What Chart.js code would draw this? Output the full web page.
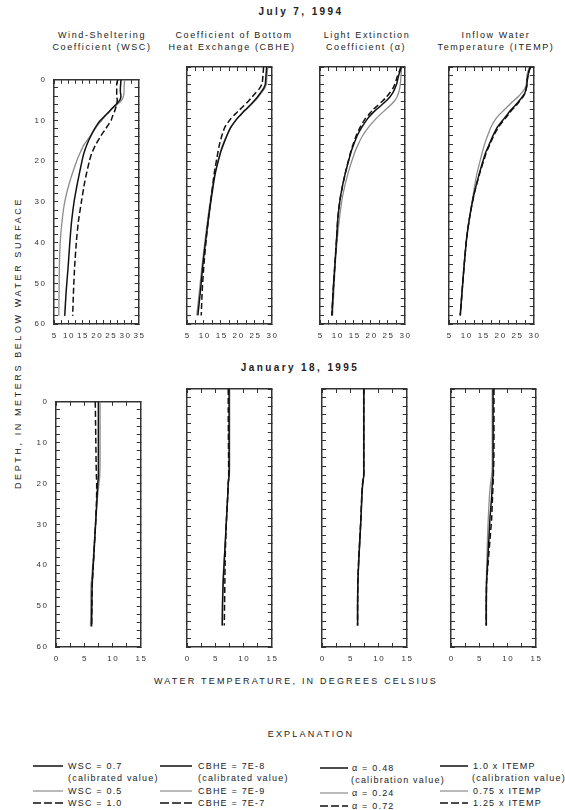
<!DOCTYPE html>
<html>
<head>
  <meta charset="utf-8">
  <title>Simulated water temperature profiles</title>
  <script src="https://cdn.jsdelivr.net/npm/chart.js@4.4.1/dist/chart.umd.min.js"></script>
  <style>
    body { margin: 0; width: 565px; height: 810px; position: relative; overflow: hidden; background: #fff;
           font-family: "Liberation Sans", Arial, sans-serif; color: #222; }
    canvas { position: absolute; }
    .txt { position: absolute; white-space: nowrap; font-size: 9px; line-height: 12px; letter-spacing: 1.6px;
           transform: translate(-50%, -50%); }
    .bold { font-weight: bold; font-size: 10px; letter-spacing: 2.4px; }
    .leg { position: absolute; white-space: nowrap; font-size: 9px; line-height: 12px; letter-spacing: 1.2px;
           transform: translateY(-50%); }
    svg.s { position: absolute; overflow: visible; }
  </style>
</head>
<body>

<div class="txt bold" style="left:301px; top:12px">July 7, 1994</div>
<div class="txt" style="left:102px; top:35px">Wind-Sheltering</div>
<div class="txt" style="left:102px; top:47px">Coefficient (WSC)</div>
<div class="txt" style="left:234px; top:35px">Coefficient of Bottom</div>
<div class="txt" style="left:232px; top:47px">Heat Exchange (CBHE)</div>
<div class="txt" style="left:367px; top:35px">Light Extinction</div>
<div class="txt" style="left:366px; top:47px">Coefficient (α)</div>
<div class="txt" style="left:496px; top:35px">Inflow Water</div>
<div class="txt" style="left:496px; top:47px">Temperature (ITEMP)</div>

<div class="txt bold" style="left:300px; top:368px">January 18, 1995</div>

<div class="txt" style="left:18px; top:343px; transform: translate(-50%, -50%) rotate(-90deg); letter-spacing:2.6px">DEPTH, IN METERS BELOW WATER SURFACE</div>
<div class="txt" style="left:296px; top:681px; letter-spacing:2.2px">WATER TEMPERATURE, IN DEGREES CELSIUS</div>
<div class="txt" style="left:311px; top:734px; letter-spacing:2.2px">EXPLANATION</div>

<!-- legend -->
<svg class="s" style="left:33px; top:766px" width="30" height="1"><line x1="0" y1="0" x2="30" y2="0" stroke="#111" stroke-width="1.5"/></svg>
<div class="leg" style="left:68px; top:766px">WSC = 0.7</div>
<div class="leg" style="left:68px; top:778px">(calibrated value)</div>
<svg class="s" style="left:33px; top:791px" width="30" height="1"><line x1="0" y1="0" x2="30" y2="0" stroke="#8c8c8c" stroke-width="1.2"/></svg>
<div class="leg" style="left:68px; top:791px">WSC = 0.5</div>
<svg class="s" style="left:33px; top:803px" width="30" height="1"><line x1="0" y1="0" x2="30" y2="0" stroke="#111" stroke-width="1.5" stroke-dasharray="8,3"/></svg>
<div class="leg" style="left:68px; top:803px">WSC = 1.0</div>

<svg class="s" style="left:160px; top:766px" width="32" height="1"><line x1="0" y1="0" x2="32" y2="0" stroke="#111" stroke-width="1.5"/></svg>
<div class="leg" style="left:198px; top:766px">CBHE = 7E-8</div>
<div class="leg" style="left:198px; top:778px">(calibrated value)</div>
<svg class="s" style="left:160px; top:791px" width="32" height="1"><line x1="0" y1="0" x2="32" y2="0" stroke="#8c8c8c" stroke-width="1.2"/></svg>
<div class="leg" style="left:198px; top:791px">CBHE = 7E-9</div>
<svg class="s" style="left:160px; top:803px" width="32" height="1"><line x1="0" y1="0" x2="32" y2="0" stroke="#111" stroke-width="1.5" stroke-dasharray="9,3"/></svg>
<div class="leg" style="left:198px; top:803px">CBHE = 7E-7</div>

<svg class="s" style="left:320px; top:768px" width="28" height="1"><line x1="0" y1="0" x2="28" y2="0" stroke="#111" stroke-width="1.5"/></svg>
<div class="leg" style="left:352px; top:768px">α = 0.48</div>
<div class="leg" style="left:351px; top:780px">(calibration value)</div>
<svg class="s" style="left:320px; top:793px" width="28" height="1"><line x1="0" y1="0" x2="28" y2="0" stroke="#8c8c8c" stroke-width="1.2"/></svg>
<div class="leg" style="left:352px; top:793px">α = 0.24</div>
<svg class="s" style="left:320px; top:806px" width="28" height="1"><line x1="0" y1="0" x2="28" y2="0" stroke="#111" stroke-width="1.5" stroke-dasharray="8,3"/></svg>
<div class="leg" style="left:352px; top:806px">α = 0.72</div>

<svg class="s" style="left:440px; top:766px" width="28" height="1"><line x1="0" y1="0" x2="28" y2="0" stroke="#111" stroke-width="1.5"/></svg>
<div class="leg" style="left:473px; top:766px">1.0 x ITEMP</div>
<div class="leg" style="left:472px; top:778px">(calibration value)</div>
<svg class="s" style="left:440px; top:791px" width="28" height="1"><line x1="0" y1="0" x2="28" y2="0" stroke="#8c8c8c" stroke-width="1.2"/></svg>
<div class="leg" style="left:473px; top:791px">0.75 x ITEMP</div>
<svg class="s" style="left:440px; top:803px" width="28" height="1"><line x1="0" y1="0" x2="28" y2="0" stroke="#111" stroke-width="1.5" stroke-dasharray="8,3"/></svg>
<div class="leg" style="left:473px; top:803px">1.25 x ITEMP</div>

<script>
  // depth below water surface (m)
  var julyDepth = [0, 1, 2, 3, 4, 5, 6, 7, 8, 9, 10, 11, 12, 14, 16, 18, 20, 25, 30, 35, 40, 46, 52, 58];
  var janDepth = [0, 5, 10, 15, 18, 20, 22, 25, 30, 35, 40, 45, 50, 55];

  // July 7, 1994 - water temperature (deg C)
  var wsc07 = [28.7, 28.6, 28.5, 28.5, 28.7, 28.3, 27.0, 25.6, 24.3, 22.8, 21.4, 20.3, 19.4, 17.9, 16.6, 15.6, 14.9, 13.4, 12.1, 11.2, 10.6, 10.0, 9.3, 8.8];
  var wsc05 = [30.0, 29.9, 29.8, 29.8, 29.6, 29.0, 27.5, 25.8, 24.3, 23.0, 21.9, 20.6, 19.6, 17.6, 15.6, 14.2, 13.0, 10.6, 8.8, 7.8, 7.2, 6.9, 6.8, 6.7];
  var wsc10 = [27.6, 27.2, 27.2, 27.2, 27.2, 27.4, 27.2, 26.8, 26.3, 25.7, 25.2, 24.3, 23.3, 21.4, 19.7, 18.4, 17.5, 15.9, 14.7, 13.6, 12.9, 12.3, 11.9, 11.6];

  var cbhe7e8 = [28.5, 28.4, 28.3, 28.2, 28.1, 27.6, 26.7, 25.8, 24.7, 23.5, 22.2, 21.0, 19.8, 18.0, 16.8, 15.8, 14.9, 13.3, 12.3, 11.4, 10.6, 9.7, 9.0, 8.2];
  var cbhe7e9 = [28.8, 28.7, 28.6, 28.5, 28.4, 27.9, 27.0, 26.0, 24.9, 23.7, 22.4, 21.1, 19.9, 18.0, 16.7, 15.6, 14.8, 13.2, 12.1, 11.2, 10.4, 9.5, 8.7, 7.9];
  var cbhe7e7 = [27.6, 27.5, 27.4, 27.3, 27.1, 26.4, 25.3, 24.2, 23.1, 21.8, 20.5, 19.2, 18.0, 16.2, 15.3, 14.6, 14.1, 13.0, 12.2, 11.4, 10.7, 10.0, 9.5, 9.2];

  var alpha048 = [28.9, 28.6, 28.2, 27.9, 27.6, 27.1, 26.5, 25.6, 24.4, 23.0, 21.5, 20.2, 19.1, 17.4, 16.0, 15.0, 14.1, 12.4, 11.1, 10.3, 9.9, 9.4, 8.9, 8.5];
  var alpha024 = [29.1, 29.0, 28.9, 28.8, 28.7, 28.5, 28.2, 27.7, 26.9, 25.7, 24.3, 22.9, 21.6, 19.4, 17.6, 16.3, 15.2, 13.2, 11.7, 10.8, 10.1, 9.5, 9.1, 8.7];
  var alpha072 = [28.9, 28.4, 27.9, 27.5, 27.1, 26.5, 25.6, 24.6, 23.4, 22.0, 20.6, 19.5, 18.4, 16.9, 15.7, 14.8, 14.0, 12.4, 11.1, 10.3, 9.9, 9.4, 8.9, 8.5];

  var itemp100 = [29.0, 28.6, 28.3, 28.1, 28.0, 27.8, 27.4, 26.6, 25.6, 24.5, 23.3, 22.3, 21.3, 19.3, 18.0, 16.9, 15.8, 13.9, 12.3, 11.1, 10.2, 9.5, 8.9, 8.3];
  var itemp075 = [28.7, 28.3, 28.0, 27.9, 27.8, 27.4, 26.5, 25.3, 23.9, 22.6, 21.3, 20.0, 18.9, 17.4, 16.4, 15.5, 14.8, 13.2, 12.1, 11.1, 10.2, 9.5, 8.9, 8.4];
  var itemp125 = [29.0, 28.6, 28.3, 28.1, 28.0, 27.8, 27.5, 26.8, 25.8, 24.8, 23.6, 22.6, 21.6, 19.6, 18.2, 17.1, 16.0, 14.0, 12.3, 11.1, 10.2, 9.5, 8.9, 8.3];

  // January 18, 1995 - water temperature (deg C)
  var janWsc07 = [7.5, 7.5, 7.5, 7.5, 7.5, 7.4, 7.3, 7.2, 7.0, 6.8, 6.6, 6.4, 6.35, 6.3];
  var janWsc05 = [7.8, 7.8, 7.8, 7.8, 7.75, 7.6, 7.45, 7.25, 7.0, 6.75, 6.5, 6.2, 6.15, 6.1];
  var janWsc10 = [6.95, 7.0, 7.05, 7.1, 7.15, 7.2, 7.2, 7.15, 7.0, 6.8, 6.6, 6.4, 6.35, 6.3];

  var janCbhe7e8 = [7.45, 7.45, 7.45, 7.45, 7.45, 7.45, 7.3, 7.2, 7.0, 6.8, 6.6, 6.4, 6.3, 6.25];
  var janCbhe7e9 = [7.55, 7.55, 7.55, 7.55, 7.55, 7.5, 7.3, 7.2, 7.0, 6.8, 6.55, 6.35, 6.25, 6.2];
  var janCbhe7e7 = [7.3, 7.3, 7.32, 7.35, 7.37, 7.38, 7.3, 7.2, 7.0, 6.85, 6.75, 6.7, 6.65, 6.6];

  var janAlpha048 = [7.4, 7.4, 7.4, 7.4, 7.4, 7.4, 7.2, 7.05, 6.9, 6.7, 6.5, 6.35, 6.3, 6.3];
  var janAlpha024 = [7.42, 7.42, 7.42, 7.42, 7.42, 7.42, 7.22, 7.07, 6.92, 6.72, 6.52, 6.36, 6.31, 6.3];
  var janAlpha072 = [7.38, 7.38, 7.38, 7.38, 7.38, 7.38, 7.18, 7.03, 6.88, 6.68, 6.48, 6.34, 6.3, 6.3];

  var janItemp100 = [7.45, 7.45, 7.45, 7.45, 7.45, 7.45, 7.3, 7.2, 6.9, 6.7, 6.5, 6.3, 6.25, 6.25];
  var janItemp075 = [7.3, 7.3, 7.3, 7.3, 7.3, 7.2, 7.0, 6.8, 6.6, 6.45, 6.35, 6.25, 6.2, 6.2];
  var janItemp125 = [7.6, 7.6, 7.6, 7.6, 7.55, 7.5, 7.45, 7.35, 7.2, 6.9, 6.6, 6.3, 6.25, 6.25];

  var FONT = '"Liberation Sans", Arial, sans-serif';

  // tick labels in the figure are letter-spaced ("1 0", "2 0", ...)
  function spaced(v) {
    return String(v).split('').join('\u2009');
  }

  function axis(pos, min, max, step, labels, every, size) {
    var vertical = (pos === 'left' || pos === 'right');
    return {
      type: 'linear',
      position: pos,
      min: min,
      max: max,
      reverse: vertical,
      afterFit: function (s) {
        if (vertical) s.width = size; else s.height = size;
      },
      border: { display: true, color: '#333', width: 1.5 },
      grid: { drawOnChartArea: false, drawTicks: true, tickLength: -4, color: '#333', lineWidth: 1 },
      ticks: {
        display: labels,
        stepSize: step,
        maxTicksLimit: 100,
        autoSkip: false,
        maxRotation: 0,
        minRotation: 0,
        padding: vertical ? 13 : 11,
        color: '#333',
        font: { family: FONT, size: 8 },
        callback: function (v) {
          return Math.abs(v / every - Math.round(v / every)) < 1e-6 ? spaced(v) : '';
        }
      }
    };
  }

  function series(temps, depths, kind) {
    var ds = {
      data: temps.map(function (t, i) { return { x: t, y: depths[i] }; }),
      showLine: true,
      pointRadius: 0,
      tension: 0.2,
      borderColor: '#111',
      borderWidth: 1.5,
      fill: false
    };
    if (kind === 'low') { ds.borderColor = '#8c8c8c'; ds.borderWidth = 1.3; }
    if (kind === 'high') { ds.borderDash = [6, 3]; }
    return ds;
  }

  function panel(left, top, boxH, xMin, xMax, xStep, xEvery, yLabels, depths, base, low, high) {
    var cv = document.createElement('canvas');
    cv.width = 96 + 35;
    cv.height = boxH + 27;
    cv.style.left = (left - 30) + 'px';
    cv.style.top = (top - 5) + 'px';
    document.body.appendChild(cv);
    new Chart(cv, {
      type: 'scatter',
      data: {
        datasets: [series(high, depths, 'high'), series(base, depths, 'base'), series(low, depths, 'low')]
      },
      options: {
        responsive: false,
        animation: false,
        devicePixelRatio: 1,
        layout: { padding: 0 },
        plugins: { legend: { display: false }, tooltip: { enabled: false } },
        scales: {
          x: axis('bottom', xMin, xMax, xStep, true, xEvery, 22),
          x2: axis('top', xMin, xMax, xStep, false, xEvery, 5),
          y: axis('left', 0, 60, 2, yLabels, 10, 30),
          y2: axis('right', 0, 60, 2, false, 10, 5)
        }
      }
    });
  }

  // July 7, 1994
  panel(54, 67, 257, 5, 35, 2.5, 5, true, julyDepth, wsc07, wsc05, wsc10);
  panel(187, 67, 257, 5, 30, 2.5, 5, false, julyDepth, cbhe7e8, cbhe7e9, cbhe7e7);
  panel(320, 67, 257, 5, 30, 2.5, 5, false, julyDepth, alpha048, alpha024, alpha072);
  panel(449, 67, 257, 5, 30, 2.5, 5, false, julyDepth, itemp100, itemp075, itemp125);

  // January 18, 1995
  panel(56, 389, 258, 0, 15, 2.5, 5, true, janDepth, janWsc07, janWsc05, janWsc10);
  panel(187, 389, 258, 0, 15, 2.5, 5, false, janDepth, janCbhe7e8, janCbhe7e9, janCbhe7e7);
  panel(322, 389, 258, 0, 15, 2.5, 5, false, janDepth, janAlpha048, janAlpha024, janAlpha072);
  panel(451, 389, 258, 0, 15, 2.5, 5, false, janDepth, janItemp100, janItemp075, janItemp125);
</script>
</body>
</html>
